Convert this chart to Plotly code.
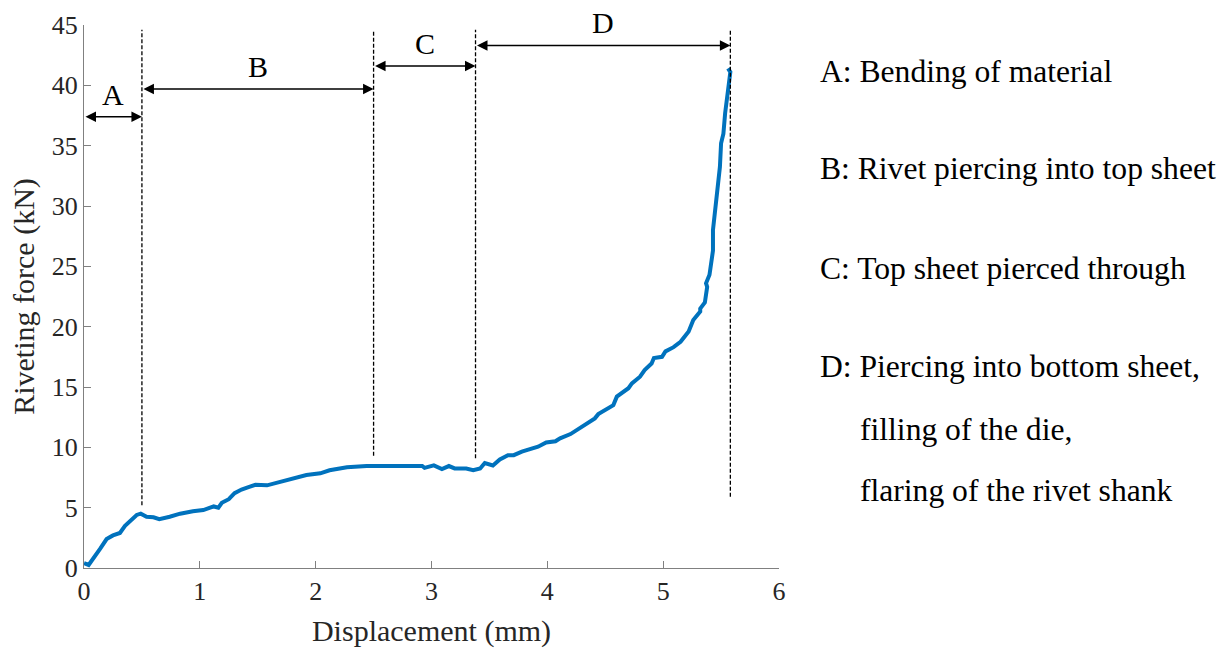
import plotly.graph_objects as go

# Force-displacement record of the riveting process
displacement = [0.00, 0.04, 0.14, 0.195, 0.25, 0.31, 0.354, 0.455, 0.49, 0.54, 0.60, 0.65,
                0.74, 0.83, 0.94, 1.03, 1.12, 1.16, 1.19, 1.25, 1.30, 1.36, 1.42, 1.48,
                1.58, 1.69, 1.81, 1.92, 2.04, 2.12, 2.27, 2.44, 2.67, 2.84, 2.92, 2.94,
                3.02, 3.09, 3.15, 3.20, 3.30, 3.36, 3.42, 3.46, 3.53, 3.59, 3.66, 3.71,
                3.78, 3.92, 3.99, 4.07, 4.11, 4.20, 4.31, 4.41, 4.44, 4.54, 4.57, 4.60,
                4.64, 4.70, 4.73, 4.80, 4.84, 4.90, 4.92, 4.99, 5.02, 5.09, 5.15, 5.22,
                5.26, 5.32, 5.32, 5.36, 5.38, 5.37, 5.40, 5.42, 5.43, 5.43, 5.46, 5.47,
                5.49, 5.50, 5.52, 5.535, 5.55, 5.57, 5.58, 5.56]
force = [0.40, 0.25, 1.60, 2.40, 2.70, 2.90, 3.50, 4.40, 4.50, 4.25, 4.20, 4.05,
         4.25, 4.50, 4.70, 4.80, 5.10, 5.00, 5.40, 5.70, 6.20, 6.50, 6.70, 6.90,
         6.85, 7.15, 7.40, 7.70, 7.85, 8.10, 8.35, 8.45, 8.45, 8.40, 8.45, 8.30,
         8.50, 8.20, 8.45, 8.25, 8.25, 8.10, 8.25, 8.70, 8.50, 9.00, 9.35, 9.35,
         9.65, 10.05, 10.40, 10.50, 10.75, 11.10, 11.75, 12.40, 12.75, 13.40, 13.50, 14.20,
         14.50, 14.90, 15.30, 15.85, 16.40, 16.95, 17.40, 17.50, 17.95, 18.30, 18.75, 19.60,
         20.55, 21.25, 21.50, 22.00, 23.30, 23.60, 24.30, 25.40, 26.30, 28.00, 30.50, 32.00,
         33.25, 35.20, 36.00, 37.70, 39.05, 40.15, 41.10, 41.40]

# Stage boundaries (mm) and stage names
stage_bounds = [0.0, 0.5, 2.5, 3.38, 5.58]
stage_labels = ["A", "B", "C", "D"]
stage_texts = ["A: Bending of material",
               "B: Rivet piercing into top sheet",
               "C: Top sheet pierced through",
               "D: Piercing into bottom sheet,",
               "filling of the die,",
               "flaring of the rivet shank"]

x_ticks = [0, 1, 2, 3, 4, 5, 6]
y_ticks = [0, 5, 10, 15, 20, 25, 30, 35, 40, 45]

FONT = "Liberation Serif"
AXIS_GREY = "#808080"
TEXT_DARK = "#262626"
Y_MAX = 45

# Drawing geometry for the stage markers (kN)
divider_bottoms = [5.2, 9.3, 9.1, 5.9]
divider_top = 44.6
arrow_levels = [37.4, 39.7, 41.6, 43.3]
label_levels = [39.2, 41.6, 43.5, 45.2]

# Plot-area box in pixels, used to place the side notes
W, H = 1226, 649
L, R, T, B = 84, 447, 25, 81
plot_w, plot_h = W - L - R, H - T - B

fig = go.Figure()
fig.add_trace(go.Scatter(
    x=displacement, y=force, mode="lines",
    line=dict(color="#0072BD", width=4),
    hoverinfo="skip", showlegend=False,
))

# Vertical dashed dividers between the stages
for xb, yb in zip(stage_bounds[1:], divider_bottoms):
    fig.add_shape(type="line", xref="x", yref="y", x0=xb, x1=xb, y0=yb, y1=divider_top,
                  line=dict(color="black", width=1.3, dash="4px,2px"))

# Double-headed arrows spanning each stage, with the stage letter
for i, lab in enumerate(stage_labels):
    x0, x1 = stage_bounds[i], stage_bounds[i + 1]
    fig.add_annotation(x=x1, y=arrow_levels[i], ax=x0, ay=arrow_levels[i],
                       xref="x", yref="y", axref="x", ayref="y",
                       text="", showarrow=True, arrowhead=2, arrowsize=1.5,
                       arrowwidth=1.4, arrowcolor="black", arrowside="end+start",
                       standoff=0, startstandoff=0)
    fig.add_annotation(x=(x0 + x1) / 2, y=label_levels[i] / Y_MAX, xref="x", yref="paper",
                       text=lab, showarrow=False, yanchor="middle",
                       font=dict(family=FONT, size=30, color="black"))

# Stage descriptions on the right
text_pos = [(818, 71), (818, 168), (818, 268), (818, 367), (858, 429), (858, 490)]
for txt, (px, py) in zip(stage_texts, text_pos):
    fig.add_annotation(x=(px - L) / plot_w, y=(H - B - py) / plot_h,
                       xref="paper", yref="paper",
                       text=txt, showarrow=False, xanchor="left", yanchor="middle",
                       font=dict(family=FONT, size=31.6, color="black"))

fig.update_layout(
    width=W, height=H,
    margin=dict(l=L, r=R, t=T, b=B, autoexpand=False),
    paper_bgcolor="white", plot_bgcolor="white",
    font=dict(family=FONT, color=TEXT_DARK),
    showlegend=False,
)
fig.update_xaxes(
    range=[0, 6], tickvals=x_ticks, ticktext=[str(v) for v in x_ticks],
    showgrid=False, zeroline=False, showline=True, linecolor=AXIS_GREY, linewidth=1.3,
    ticks="inside", ticklen=7, tickcolor=AXIS_GREY, tickwidth=1.2, automargin=False,
    tickfont=dict(family=FONT, size=26, color=TEXT_DARK),
    title=dict(text="Displacement (mm)", font=dict(family=FONT, size=30, color=TEXT_DARK), standoff=14),
)
fig.update_yaxes(
    range=[0, Y_MAX], tickvals=y_ticks, ticktext=[str(v) for v in y_ticks],
    showgrid=False, zeroline=False, showline=True, linecolor=AXIS_GREY, linewidth=1.3,
    ticks="inside", ticklen=7, tickcolor=AXIS_GREY, tickwidth=1.2, automargin=False,
    tickfont=dict(family=FONT, size=26, color=TEXT_DARK),
    title=dict(text="Riveting force (kN)", font=dict(family=FONT, size=30, color=TEXT_DARK), standoff=8),
)

fig.write_html("out.html")
